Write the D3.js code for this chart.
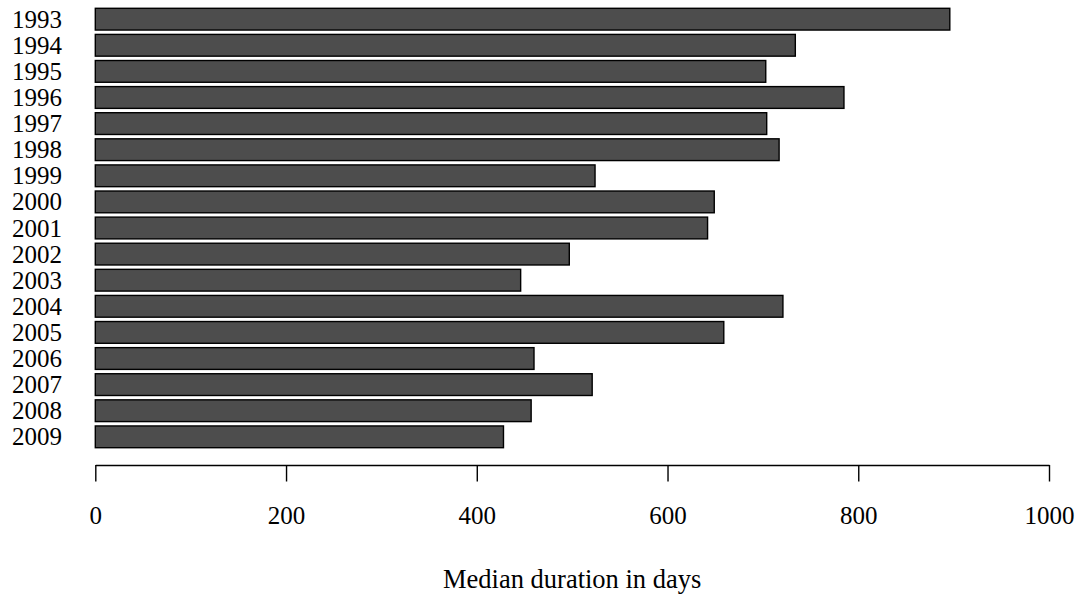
<!DOCTYPE html>
<html><head><meta charset="utf-8">
<script src="https://cdn.jsdelivr.net/npm/d3@7"></script>
<style>body{margin:0;background:#fff}svg{display:block}text{font-family:"Liberation Serif","Times New Roman",serif;fill:#000}</style>
</head><body>
<script>
const years = ["1993","1994","1995","1996","1997","1998","1999","2000","2001","2002","2003","2004","2005","2006","2007","2008","2009"];
const medianDays = [896,734,703,785,704,717,524,649,642,497,446,721,659,460,521,457,428];
const xTicks = [0,200,400,600,800,1000];
const xLabel = "Median duration in days";

const W=1085,H=595;
const svg=d3.select("body").append("svg").attr("width",W).attr("height",H);
const x=d3.scaleLinear().domain([0,1000]).range([95.3,1049]);
const y=d3.scaleBand().domain(years).range([8.3,447.7]).paddingInner(1/6).paddingOuter(0);

svg.append("g").selectAll("rect").data(years).join("rect")
  .attr("x",x(0)).attr("y",d=>y(d))
  .attr("width",(d,i)=>x(medianDays[i])-x(0)).attr("height",y.bandwidth())
  .attr("fill","#4d4d4d").attr("stroke","#000").attr("stroke-width",1.4);

svg.append("g").selectAll("text").data(years).join("text")
  .attr("x",62).attr("y",d=>y(d)+y.bandwidth()/2+8.5)
  .attr("text-anchor","end").attr("font-size",25).text(d=>d);

const ax=d3.axisBottom(x).tickValues(xTicks).tickSize(16.5).tickPadding(23).tickSizeOuter(0).tickFormat(d3.format("d"));
const g=svg.append("g").attr("transform","translate(0,465)").call(ax);
g.select(".domain").attr("stroke","#000").attr("stroke-width",1.4);
g.selectAll(".tick line").attr("stroke","#000").attr("stroke-width",1.4);
g.selectAll(".tick text").attr("font-size",25).attr("font-family","Liberation Serif, serif").attr("fill","#000").attr("dy",null).attr("y",58.5);

svg.append("text").attr("x",(x(0)+x(1000))/2).attr("y",587.5).attr("text-anchor","middle").attr("font-size",26.5).text(xLabel);
</script>
</body></html>
